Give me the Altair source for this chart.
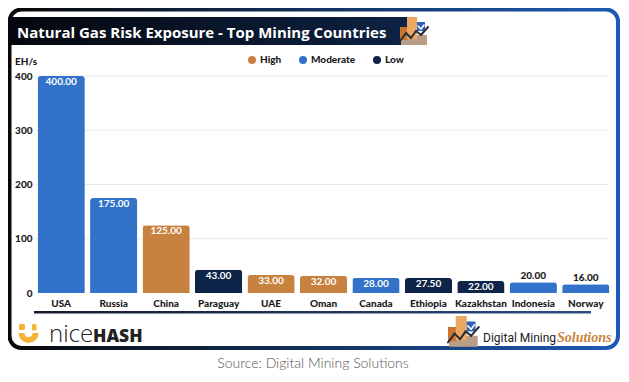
import altair as alt
import pandas as pd

countries = ["USA", "Russia", "China", "Paraguay", "UAE", "Oman", "Canada",
             "Ethiopia", "Kazakhstan", "Indonesia", "Norway"]
values = [400.0, 175.0, 125.0, 43.0, 33.0, 32.0, 28.0, 27.5, 22.0, 20.0, 16.0]
risk = ["Moderate", "Moderate", "High", "Low", "High", "High", "Moderate",
        "Low", "Low", "Moderate", "Moderate"]
label_inside = [True, True, True, True, True, True, True, True, True, False, False]
risk_levels = ["High", "Moderate", "Low"]
risk_colors = ["#C8823F", "#3273C9", "#0E2449"]
y_ticks = [100, 200, 300, 400]

df = pd.DataFrame({"country": countries, "value": values, "risk": risk,
                   "inside": label_inside})
one = alt.Data(values=[{"k": 0}])
FONT = "Open Sans"
LFONT = "Lato"

def rect(x, x2, y, y2, **kw):
    return alt.Chart(one).mark_rect(**kw).encode(
        x=alt.value(x), x2=alt.value(x2), y=alt.value(y), y2=alt.value(y2))

def seg(x, y, x2, y2, **kw):
    return alt.Chart(one).mark_rule(**kw).encode(
        x=alt.value(x), x2=alt.value(x2), y=alt.value(y), y2=alt.value(y2))

def txt(x, y, s, **kw):
    return alt.Chart(one).mark_text(text=s, **kw).encode(
        x=alt.value(x), y=alt.value(y))

def grad(c1, c2):
    return alt.LinearGradient(gradient="linear", stops=[
        alt.GradientStop(offset=0, color=c1), alt.GradientStop(offset=1, color=c2)])

# ref coordinates -> plot coordinates
def P(X, Y):
    return X - 35, Y - 76

def logo(x0, y0, s):
    def r(a, b, c, d, color):
        ax, ay = P(x0 + a * s, y0 + b * s)
        bx, by = P(x0 + c * s, y0 + d * s)
        return rect(ax, bx, ay, by, color=color)
    def l(a, b, c, d, color, w):
        ax, ay = P(x0 + a * s, y0 + b * s)
        bx, by = P(x0 + c * s, y0 + d * s)
        return seg(ax, ay, bx, by, color=color, strokeWidth=w, strokeCap="round")
    return [
        r(1, 18, 27, 28, "#B89E86"),
        r(0, 10, 8, 23, "#C8762F"),
        r(7, 0, 17, 22, "#EBA862"),
        r(17, 5, 25, 14, "#2E62B8"),
        l(0, 24, 6, 16, "#2B2B35", 2),
        l(6, 16, 11, 21, "#2B2B35", 2),
        l(11, 21, 16, 14, "#2B2B35", 2),
        l(16, 14, 21, 18, "#2B2B35", 2),
        l(21, 18, 28, 10, "#2B2B35", 2),
        l(18, 9, 21, 12, "#FFFFFF", 1.5),
        l(21, 12, 24, 8, "#FFFFFF", 1.5),
    ]

deco = []
# frame
fx, fy = P(9.5, 9.5)
fx2, fy2 = P(618, 348)
deco.append(rect(fx, fx2, fy, fy2, fillOpacity=0, stroke=grad("#080808", "#1D5BB4"),
                 strokeWidth=4, cornerRadius=12))
# title bar
tx, ty = P(10, 17)
tx2, ty2 = P(408, 45)
deco.append(rect(tx, tx2, ty, ty2, color=grad("#04070D", "#0E2244")))
ttx, tty = P(17, 38)
deco.append(txt(ttx, tty, "Natural Gas Risk Exposure - Top Mining Countries",
                font=FONT, fontSize=15, fontWeight="bold", color="white",
                align="left", baseline="alphabetic"))
deco += logo(400, 17, 1.0)
# EH/s
ex, ey = P(15, 62)
deco.append(txt(ex, ey, "EH/s", font=LFONT, fontSize=10, fontWeight=900,
                color="#1a1a1a", align="left", baseline="middle"))
# underline
ux, uy = P(34, 311)
ux2, uy2 = P(591, 313.5)
deco.append(rect(ux, ux2, uy, uy2, color=grad("#151B2A", "#2D4D86")))
# nicehash logo
yx, yy = P(19, 324)
yx2, yy2 = P(25, 330)
deco.append(rect(yx, yx2, yy, yy2, color="#F5B335", cornerRadius=1.5))
bx, by = P(32, 324)
bx2, by2 = P(36.5, 330.5)
deco.append(rect(bx, bx2, by, by2, color="#F5B335", cornerRadius=1.5))
cx, cy = P(28.5, 333)
deco.append(alt.Chart(one).mark_arc(radius=10, radius2=4, theta=1.5708, theta2=4.7124,
                                     color="#F5B335").encode(x=alt.value(cx), y=alt.value(cy)))
nx, ny = P(49, 342)
deco.append(txt(nx, ny, "nice", font=FONT, fontSize=24, fontWeight=300,
                color="#222222", align="left", baseline="alphabetic"))
hx, hy = P(93, 342)
deco.append(txt(hx, hy, "HASH", font=FONT, fontSize=17.5, fontWeight=800,
                color="#222222", align="left", baseline="alphabetic"))
# Digital Mining Solutions logo
deco += logo(448, 316, 1.1)
dx, dy = P(483, 341.5)
deco.append(txt(dx, dy, "Digital Mining", font="Roboto", fontSize=12,
                color="#1a1a1a", align="left", baseline="alphabetic"))
sx, sy = P(557, 341.5)
deco.append(txt(sx, sy, "Solutions", font="Liberation Serif", fontSize=14,
                fontStyle="italic", fontWeight="bold", color="#C8843A",
                align="left", baseline="alphabetic"))
# source
srx, sry = P(313, 368)
deco.append(txt(srx, sry, "Source: Digital Mining Solutions", font="Lato", fontSize=14,
                fontWeight=300, color="#555555", align="center", baseline="alphabetic"))

base = alt.Chart(df)
xenc = alt.X("country:N", sort=countries, title=None,
             scale=alt.Scale(paddingInner=0.1, paddingOuter=0.05),
             axis=alt.Axis(labelAngle=0, labelFont=LFONT, labelFontSize=10,
                           labelFontWeight=900, labelColor="#1a1a1a",
                           labelPadding=5, ticks=False, domain=False, grid=False,
                           zindex=2))
yscale = alt.Scale(domain=[0, 400], nice=False)
yaxis = alt.Axis(values=[0] + y_ticks, labelFont=LFONT, labelFontSize=10,
                 labelFontWeight=900, labelColor="#1a1a1a", labelPadding=3,
                 ticks=False, domain=False, grid=False, zindex=2)

grid = alt.Chart(pd.DataFrame({"t": y_ticks})).mark_rule(color="#EAEAEA", strokeWidth=1).encode(
    y=alt.Y("t:Q", scale=yscale, axis=yaxis, title=None), x=alt.value(0), x2=alt.value(573))

bars = base.mark_bar(cornerRadiusTopLeft=3, cornerRadiusTopRight=3).encode(
    x=xenc,
    y=alt.Y("value:Q", scale=yscale, title=None, axis=yaxis),
    color=alt.Color("risk:N", scale=alt.Scale(domain=risk_levels, range=risk_colors),
                    legend=alt.Legend(orient="none", legendX=212, legendY=-21,
                                      direction="horizontal", title=None,
                                      symbolType="circle", symbolSize=64,
                                      symbolStrokeWidth=0, labelFont=LFONT,
                                      labelFontSize=10, labelFontWeight=900,
                                      labelColor="#1a1a1a", labelOffset=3,
                                      columnPadding=16, padding=0)))

lab_in = base.transform_filter("datum.inside").mark_text(
    font=LFONT, fontSize=10, fontWeight="bold", color="white", baseline="middle", dy=6
).encode(x=alt.X("country:N", sort=countries), y=alt.Y("value:Q", scale=yscale),
         text=alt.Text("value:Q", format=".2f"))
lab_out = base.transform_filter("!datum.inside").mark_text(
    font=LFONT, fontSize=10, fontWeight=900, color="#1a1a1a", baseline="middle", dy=-6
).encode(x=alt.X("country:N", sort=countries), y=alt.Y("value:Q", scale=yscale),
         text=alt.Text("value:Q", format=".2f"))

chart = alt.layer(*deco, grid, bars, lab_in, lab_out).properties(
    width=577, height=217,
    autosize=alt.AutoSizeParams(type="none"),
    padding={"left": 27, "top": 68, "right": 9, "bottom": 81},
    background="white",
).configure_view(stroke=None)

chart.save("out.html", embed_options={"renderer": "svg", "actions": False})
